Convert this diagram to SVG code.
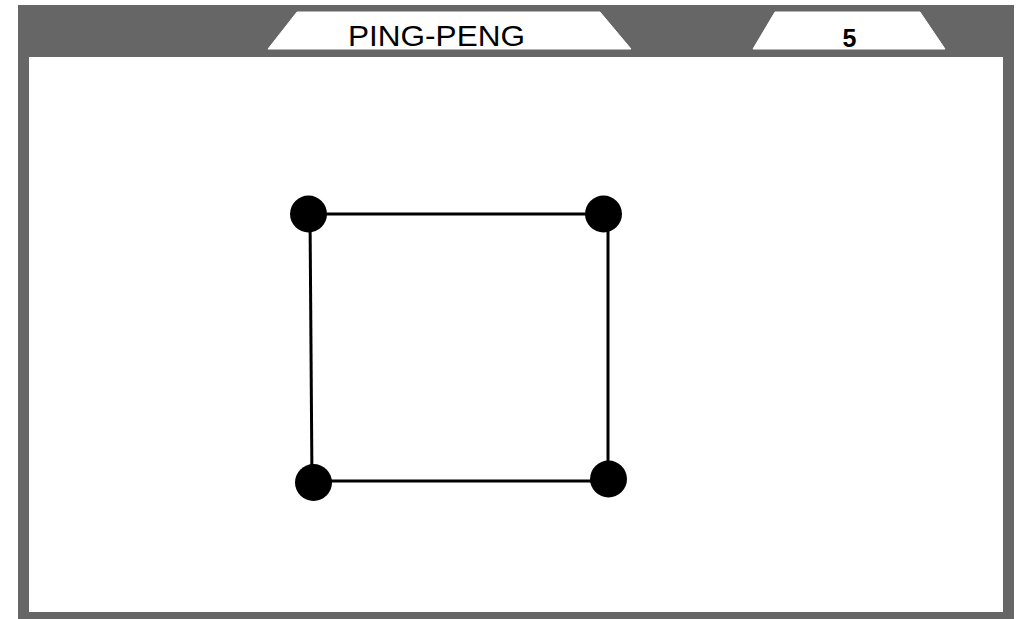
<svg xmlns="http://www.w3.org/2000/svg" width="1017" height="619" viewBox="0 0 1017 619">
  <style>
    .frame { fill: #666666; }
    .panel { fill: #ffffff; }
    .tab { fill: #ffffff; stroke: #ffffff; stroke-width: 1; stroke-linejoin: round; }
    .title { font-family: "Liberation Sans", Arial, sans-serif; fill: #000000; text-anchor: middle; }
    .edge { stroke: #000000; stroke-width: 3; fill: none; stroke-linecap: butt; }
    .node { fill: #000000; }
  </style>
  <rect width="1017" height="619" fill="#ffffff"/>
  <g id="frame">
    <rect class="frame" x="18" y="5" width="996" height="614"/>
    <rect class="panel" x="29" y="57" width="974" height="555"/>
  </g>
  <g id="tab-title">
    <polygon class="tab" points="297,12 600,12 631,49 268,49"/>
    <text class="title" x="436.5" y="45.5" font-size="29" textLength="177" lengthAdjust="spacingAndGlyphs">PING-PENG</text>
  </g>
  <g id="tab-number">
    <polygon class="tab" points="775,12 920,12 945,49 753,49"/>
    <text class="title" x="849.5" y="46.5" font-size="25" font-weight="bold">5</text>
  </g>
  <g id="connectors">
    <line class="edge" x1="308" y1="214" x2="604" y2="214"/>
    <line class="edge" x1="608" y1="214" x2="608" y2="480"/>
    <line class="edge" x1="313" y1="481" x2="608" y2="481"/>
    <line class="edge" x1="310" y1="213" x2="312" y2="483"/>
  </g>
  <g id="node-top-left"><circle class="node" cx="308.5" cy="214" r="18.5"/></g>
  <g id="node-top-right"><circle class="node" cx="603.5" cy="214" r="18.5"/></g>
  <g id="node-bottom-left"><circle class="node" cx="313.5" cy="482.5" r="18.5"/></g>
  <g id="node-bottom-right"><circle class="node" cx="608.5" cy="479" r="18.5"/></g>
</svg>
